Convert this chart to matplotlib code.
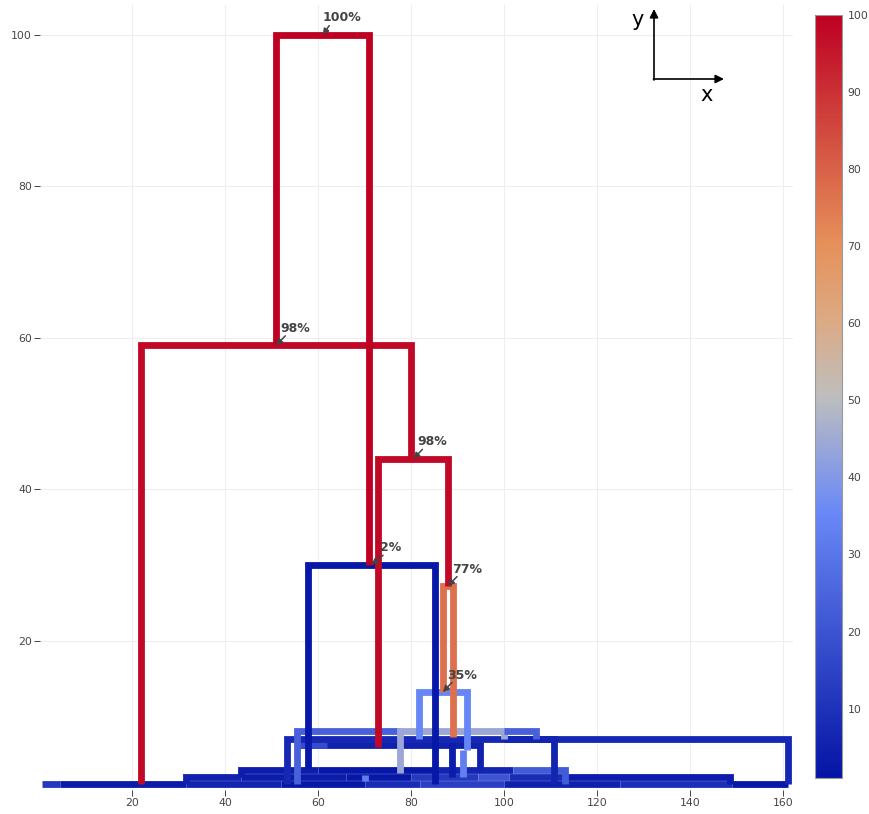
import numpy as np
import matplotlib
matplotlib.use("Agg")
import matplotlib.pyplot as plt
from matplotlib.colors import LinearSegmentedColormap, Normalize
from matplotlib.cm import ScalarMappable

# dendrogram nodes: left x, right x, node height, left child height, right child height, value (%)
# main labelled clades
main_xl = [51.0, 22.0, 73.0, 86.9, 81.7, 57.8]
main_xr = [71.0, 80.0, 88.0, 89.0, 92.0, 85.2]
main_h = [100.0, 59.0, 44.0, 27.2, 13.2, 30.0]
main_hl = [59.0, 1.1, 6.0, 13.2, 7.0, 3.2]
main_hr = [30.0, 44.0, 27.2, 7.2, 5.5, 1.1]
main_val = [100, 98, 98, 77, 35, 2]

# low-level clades near the leaves
low_xl = [55.5, 77.6, 100.0,
          53.4, 100.0,
          55.8, 55.5,
          43.4, 60.0, 85.0, 102.0,
          31.6, 43.4, 66.0, 80.0, 94.5, 101.0, 113.0,
          0.6, 4.5, 31.6, 52.0, 70.0, 82.0, 100.0, 125.0, 149.0,
          70.0, 91.2, 88.8]
low_xr = [77.6, 100.0, 106.9,
          161.0, 110.8,
          94.8, 62.0,
          60.0, 85.0, 102.0, 113.2,
          43.4, 66.0, 80.0, 94.5, 101.0, 113.0, 148.6,
          4.5, 31.6, 52.0, 70.0, 82.0, 100.0, 125.0, 149.0, 161.0,
          70.0, 91.2, 88.8]
low_h = [8.0, 8.0, 8.0,
         7.0, 7.0,
         6.2, 6.2,
         2.9, 2.9, 2.9, 2.9,
         2.0, 2.0, 2.0, 2.0, 2.0, 2.0, 2.0,
         1.1, 1.1, 1.1, 1.1, 1.1, 1.1, 1.1, 1.1, 1.1,
         2.3, 5.5, 6.8]
low_hl = [1.1, 2.5, 8.0,
          1.1, 7.0,
          6.2, 6.2,
          2.0, 2.9, 2.9, 2.9,
          1.1, 2.0, 2.0, 2.0, 2.0, 2.0, 2.0,
          1.1, 1.1, 1.1, 1.1, 1.1, 1.1, 1.1, 1.1, 1.1,
          1.4, 2.0, 2.0]
low_hr = [8.0, 7.0, 7.0,
          1.1, 1.1,
          2.9, 6.2,
          2.9, 2.9, 2.9, 1.1,
          2.0, 2.0, 2.0, 2.0, 2.0, 2.0, 1.1,
          1.1, 1.1, 1.1, 1.1, 1.1, 1.1, 1.1, 1.1, 1.1,
          2.3, 5.5, 6.8]
low_val = [24, 44, 24,
           7, 6,
           5, 18,
           4, 2, 6, 22,
           5, 3, 2, 12, 20, 8, 4,
           12, 3, 6, 2, 8, 14, 5, 9, 2,
           32, 33, 4]

y_ticks = [20, 40, 60, 80, 100]
x_ticks = [20, 40, 60, 80, 100, 120, 140, 160]
cbar_ticks = [10, 20, 30, 40, 50, 60, 70, 80, 90, 100]

rdbu = LinearSegmentedColormap.from_list(
    "plotly_rdbu",
    [(0.0, (5/255, 20/255, 165/255)),
     (0.35, (106/255, 137/255, 247/255)),
     (0.5, (190/255, 190/255, 190/255)),
     (0.6, (220/255, 170/255, 132/255)),
     (0.7, (230/255, 145/255, 90/255)),
     (1.0, (190/255, 0/255, 35/255))])
norm = Normalize(vmin=1, vmax=100)

W, H = 870, 814
fig = plt.figure(figsize=(W / 100, H / 100), dpi=100)
ax = fig.add_axes([40.4 / W, 24 / H, (793 - 40.4) / W, (790 - 4.7) / H])
ax.set_xlim(0.3, 162.15)
ax.set_ylim(0.26, 104.0)

for s in ax.spines.values():
    s.set_visible(False)
ax.set_xticks(x_ticks)
ax.set_yticks(y_ticks)
ax.grid(True, color="#eeeeee", lw=0.8, zorder=0)
ax.set_axisbelow(True)
ax.tick_params(axis="both", length=4, width=0.7, color="#444444",
               labelcolor="#444444", labelsize=7.8, pad=2)

xl = low_xl + main_xl
xr = low_xr + main_xr
hh = low_h + main_h
hl = low_hl + main_hl
hr = low_hr + main_hr
val = low_val + main_val

order = np.argsort(hh, kind="stable")
for i in order:
    ax.plot([xl[i], xl[i], xr[i], xr[i]], [hl[i], hh[i], hh[i], hr[i]],
            color=rdbu(norm(val[i])), lw=4.9,
            solid_joinstyle="miter", solid_capstyle="butt", zorder=2 + hh[i] / 200)

for i in range(len(main_val)):
    cx = (main_xl[i] + main_xr[i]) / 2
    ax.annotate(f"{main_val[i]}%", xy=(cx, main_h[i]), xytext=(19, 17),
                textcoords="offset pixels", ha="center", va="center",
                fontsize=9, fontweight="bold", color="#444444", zorder=5,
                arrowprops=dict(arrowstyle="-|>,head_length=0.4,head_width=0.2",
                                color="#444444", lw=1.1, relpos=(0.2, 0.0),
                                patchA=None, shrinkA=1, shrinkB=0))

# axis orientation hint
ax.annotate("", xy=(654, H - 9), xytext=(654, H - 80), xycoords="figure pixels",
            textcoords="figure pixels",
            arrowprops=dict(arrowstyle="-|>,head_length=0.5,head_width=0.25",
                            color="black", lw=1.2, shrinkA=0, shrinkB=0))
ax.annotate("", xy=(724, H - 79), xytext=(653.4, H - 79), xycoords="figure pixels",
            textcoords="figure pixels",
            arrowprops=dict(arrowstyle="-|>,head_length=0.5,head_width=0.25",
                            color="black", lw=1.2, shrinkA=0, shrinkB=0))
fig.text(638 / W, 1 - 20 / H, "y", fontsize=15, ha="center", va="center")
fig.text(707 / W, 1 - 95 / H, "x", fontsize=15, ha="center", va="center")

cax = fig.add_axes([815 / W, 36 / H, 27 / W, 763 / H])
cb = fig.colorbar(ScalarMappable(norm=norm, cmap=rdbu), cax=cax, ticks=cbar_ticks)
cb.outline.set_edgecolor("#999999")
cb.outline.set_linewidth(0.8)
cax.tick_params(length=0, labelsize=7.8, labelcolor="#444444", pad=4)

fig.savefig("out.png", dpi=100)
